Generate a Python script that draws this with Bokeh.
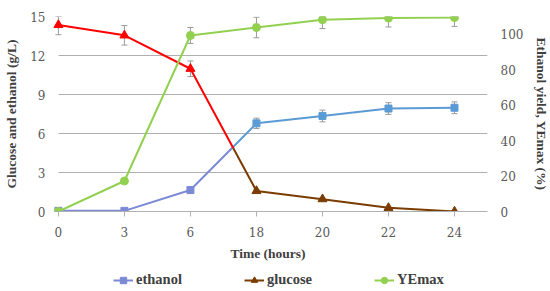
from bokeh.plotting import figure
from bokeh.models import (Range1d, LinearAxis, FixedTicker, Legend, LegendItem,
                          Whisker, TeeHead, ColumnDataSource)
from bokeh.layouts import column
from bokeh.embed import file_html
from bokeh.resources import INLINE
import numpy as np

# ---------------- data ----------------
time_labels = ["0", "3", "6", "18", "20", "22", "24"]
ethanol = [0.05, 0.05, 1.65, 6.78, 7.35, 7.92, 7.98]
ethanol_err = [0.05, 0.05, 0.12, 0.4, 0.45, 0.45, 0.45]
glucose = [14.35, 13.55, 10.98, 1.58, 0.95, 0.28, 0.0]
glucose_err = [0.75, 0.75, 0.6, 0.12, 0.1, 0.05, 0.02]
yemax = [0.0, 17.2, 99.3, 103.8, 108.2, 109.1, 109.4]
yemax_err = [0.5, 1.0, 4.5, 5.8, 5.0, 5.0, 5.0]
series_names = ["ethanol", "glucose", "YEmax"]

left_ticks = [0, 3, 6, 9, 12, 15]
right_ticks = [0, 20, 40, 60, 80, 100]

# ---------------- style ----------------
GRID = "#b0b0b0"
TICK_TXT = "#595959"
TITLE_TXT = "#404040"
PURPLE = "#7b89d6"
BLUE = "#5b9bd5"
RED = "#ff0000"
BROWN = "#7b3c00"
GREEN = "#92d050"
ERR = "#9a9a9a"
TICK_FONT = "DejaVu Serif"
TITLE_FONT = "Liberation Serif"
SPLIT = 0.65  # where the colour changes along the 6 -> 18 h segment

xs = list(range(len(time_labels)))
LEFT_MAX = 15
RIGHT_MAX = 110

p = figure(frame_width=439, frame_height=195, output_backend="svg",
           toolbar_location=None,
           x_range=Range1d(-0.15, 6.5), y_range=Range1d(0, LEFT_MAX),
           min_border_left=48, min_border_right=63, min_border_top=16,
           min_border_bottom=54)
p.extra_y_ranges = {"right": Range1d(0, RIGHT_MAX)}
p.outline_line_color = None
p.background_fill_color = "white"
p.border_fill_color = "white"

# grid
p.xgrid.visible = False
p.ygrid.grid_line_color = GRID
p.ygrid.grid_line_width = 1
p.ygrid.ticker = FixedTicker(ticks=left_ticks)
g = p.ygrid[0]
if "cross_bounds" in g.properties():
    g.cross_bounds = (0, 6.5)

# x axis
xa = p.xaxis[0]
xa.ticker = FixedTicker(ticks=xs)
xa.major_label_overrides = {i: t for i, t in enumerate(time_labels)}
xa.bounds = (0, 6.5)
xa.axis_line_color = GRID
xa.major_tick_line_color = GRID
xa.major_tick_out = 5
xa.major_tick_in = 0
xa.minor_tick_line_color = None
xa.major_label_standoff = 10
xa.major_label_text_font = TICK_FONT
xa.major_label_text_font_size = "12px"
xa.major_label_text_color = TICK_TXT
xa.axis_label = "Time (hours)"
xa.axis_label_text_font = TITLE_FONT
xa.axis_label_text_font_size = "13.5px"
xa.axis_label_text_font_style = "bold"
xa.axis_label_text_color = TITLE_TXT
xa.axis_label_standoff = 6

# left axis
ya = p.yaxis[0]
ya.ticker = FixedTicker(ticks=left_ticks)
ya.axis_line_color = None
ya.major_tick_line_color = None
ya.minor_tick_line_color = None
ya.major_tick_out = 0
ya.major_label_standoff = 3
ya.major_label_text_font = TICK_FONT
ya.major_label_text_font_size = "12px"
ya.major_label_text_color = TICK_TXT
ya.axis_label = "Glucose and ethanol (g/L)"
ya.axis_label_text_font = TITLE_FONT
ya.axis_label_text_font_size = "13.5px"
ya.axis_label_text_font_style = "bold"
ya.axis_label_text_color = TITLE_TXT
ya.axis_label_standoff = 8

# right axis
ra = LinearAxis(y_range_name="right", ticker=FixedTicker(ticks=right_ticks))
ra.axis_line_color = None
ra.major_tick_line_color = None
ra.minor_tick_line_color = None
ra.major_tick_out = 0
ra.major_label_standoff = 13
ra.major_label_text_font = TICK_FONT
ra.major_label_text_font_size = "12px"
ra.major_label_text_color = TICK_TXT
ra.axis_label = "Ethanol yield, YEmax (%)"
ra.axis_label_text_font = TITLE_FONT
ra.axis_label_text_font_size = "13.5px"
ra.axis_label_text_font_style = "bold"
ra.axis_label_text_color = TITLE_TXT
ra.axis_label_standoff = 8
p.add_layout(ra, "right")


def err_source(vals, errs, cap):
    v = np.array(vals, dtype=float)
    e = np.array(errs, dtype=float)
    return ColumnDataSource(dict(x=xs, lower=np.maximum(v - e, 0),
                                 upper=np.minimum(v + e, cap)))


def add_whisker(src, rng=None):
    kw = {}
    if rng:
        kw["y_range_name"] = rng
    w = Whisker(base="x", lower="lower", upper="upper", source=src,
                line_color=ERR, line_width=1,
                upper_head=TeeHead(size=6, line_color=ERR, line_width=1),
                lower_head=TeeHead(size=6, line_color=ERR, line_width=1), **kw)
    p.add_layout(w)


add_whisker(err_source(ethanol, ethanol_err, LEFT_MAX))
add_whisker(err_source(glucose, glucose_err, LEFT_MAX))
add_whisker(err_source(yemax, yemax_err, RIGHT_MAX), "right")


def split_series(vals):
    xm = 2 + SPLIT
    ym = vals[2] + SPLIT * (vals[3] - vals[2])
    return (xs[:3] + [xm], vals[:3] + [ym]), ([xm] + xs[3:], [ym] + vals[3:])


# ethanol
(e1x, e1y), (e2x, e2y) = split_series(ethanol)
p.line(e1x, e1y, line_color=PURPLE, line_width=2)
p.line(e2x, e2y, line_color=BLUE, line_width=2)
p.scatter(xs[:3], ethanol[:3], marker="square", size=7,
          fill_color=PURPLE, line_color=PURPLE)
p.scatter(xs[3:], ethanol[3:], marker="square", size=7,
          fill_color=BLUE, line_color=BLUE)

# glucose
(g1x, g1y), (g2x, g2y) = split_series(glucose)
p.line(g1x, g1y, line_color=RED, line_width=2)
p.line(g2x, g2y, line_color=BROWN, line_width=2)
p.scatter(xs[:3], glucose[:3], marker="triangle", size=9,
          fill_color=RED, line_color=RED)
p.scatter(xs[3:], glucose[3:], marker="triangle", size=9,
          fill_color=BROWN, line_color=BROWN)

# YEmax (right axis)
p.line(xs, yemax, line_color=GREEN, line_width=2, y_range_name="right")
p.scatter(xs, yemax, marker="circle", size=8, fill_color=GREEN,
          line_color=GREEN, y_range_name="right")

# ---------------- legend strip (separate figure under the chart) ----------
# The series are re-plotted here only to feed the legend; the strip's x range
# is set away from the data so that only the legend is visible.
lg = figure(frame_width=550, frame_height=26, output_backend="svg",
            toolbar_location=None, x_range=Range1d(1000, 1001),
            y_range=Range1d(0, 1),
            x_axis_location=None, y_axis_location=None,
            min_border_left=0, min_border_right=0, min_border_top=0,
            min_border_bottom=0)
lg.grid.visible = False
lg.outline_line_color = None
lg.background_fill_color = "white"
lg.border_fill_color = "white"

legend_styles = [(PURPLE, "square"), (BROWN, "triangle"), (GREEN, "circle")]
items = []
for name, vals, (col, mk) in zip(series_names, [ethanol, glucose, yemax],
                                 legend_styles):
    src = ColumnDataSource(dict(x=xs, y=vals))
    r_line = lg.line("x", "y", source=src, line_color=col, line_width=2)
    r_mark = lg.scatter("x", "y", source=src, marker=mk, size=8,
                        fill_color=col, line_color=col)
    items.append(LegendItem(label=name, renderers=[r_line, r_mark]))

legend = Legend(items=items, orientation="horizontal", location=(113, 3),
                spacing=62, label_text_font=TITLE_FONT,
                label_text_font_size="14.5px", label_text_font_style="bold",
                label_text_color=TITLE_TXT, border_line_color=None,
                background_fill_alpha=0, margin=0, padding=2,
                glyph_width=20, glyph_height=16, label_height=16,
                label_standoff=3)
lg.add_layout(legend, "center")

layout = column(p, lg, spacing=0)
open("out.html", "w").write(file_html(layout, INLINE))
